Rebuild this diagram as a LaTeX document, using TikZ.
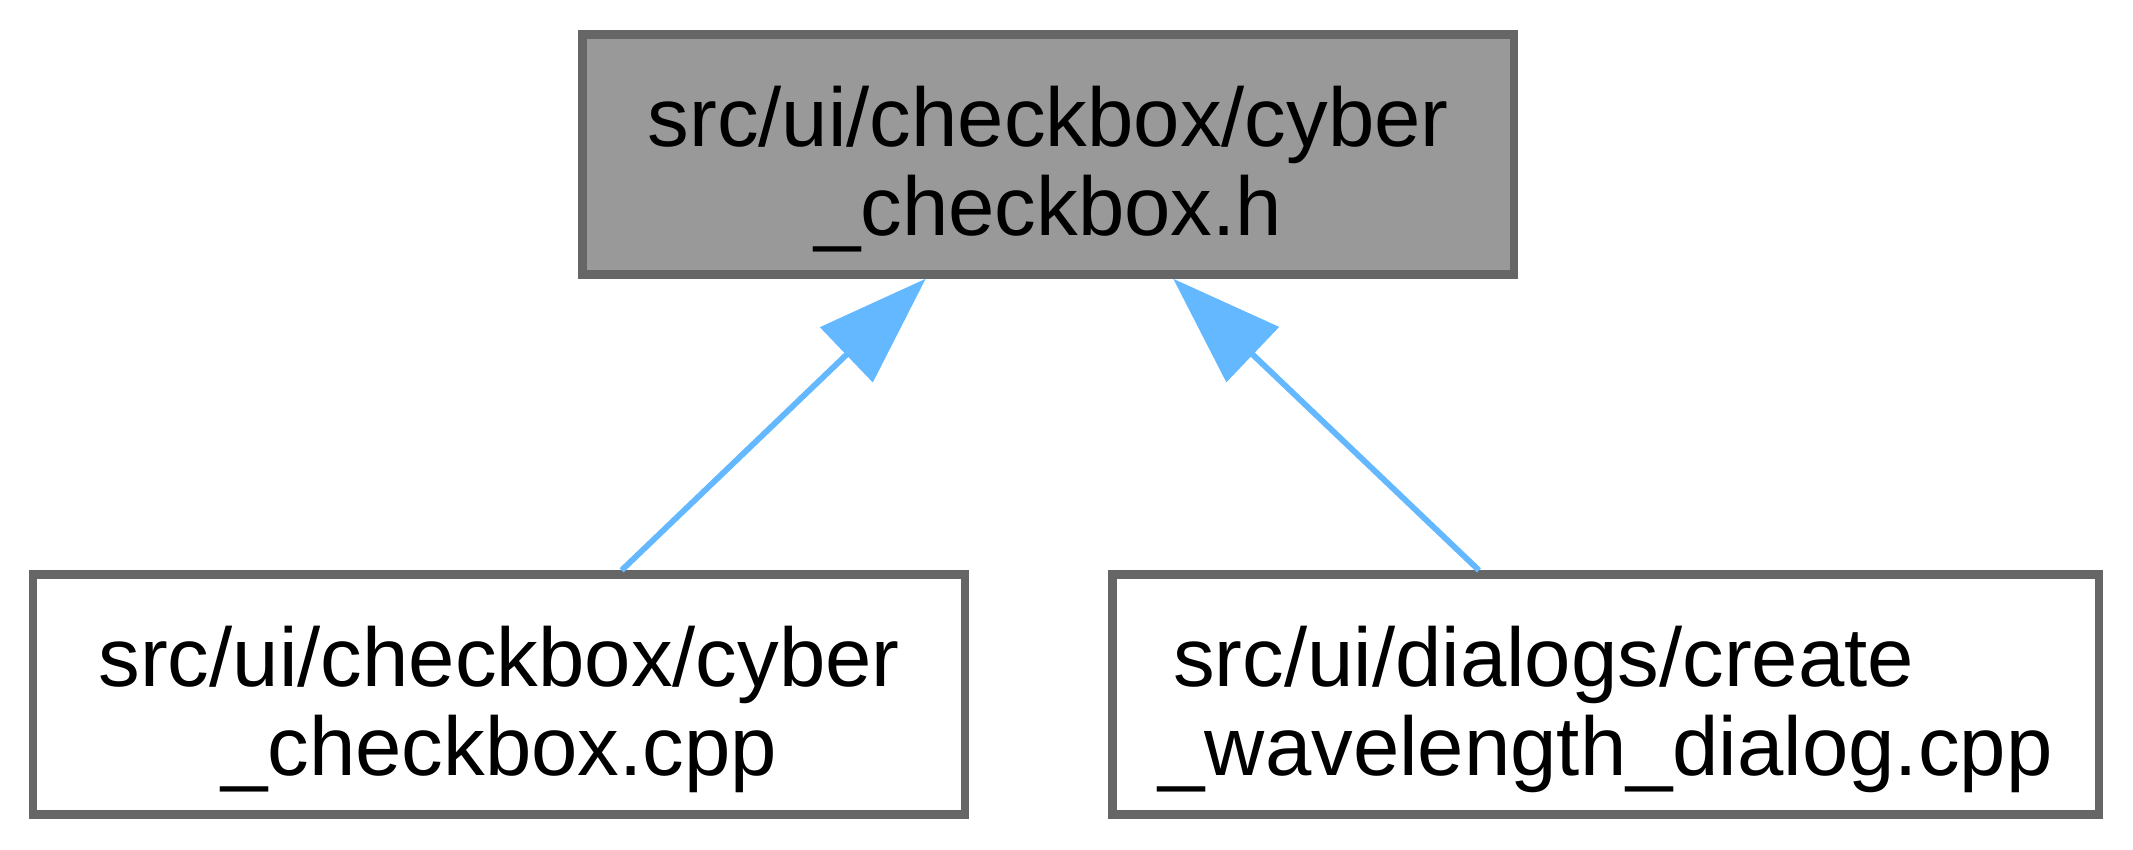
\documentclass[tikz,border=0pt]{standalone}
\usepackage{fontspec}
\setmainfont{Liberation Sans}
\usepackage{tikz}
\usetikzlibrary{arrows.meta,positioning}
\definecolor{dxborder}{HTML}{666666}
\definecolor{dxgris}{HTML}{999999}
\definecolor{dxbleu}{HTML}{63B8FF}

\begin{document}
\begin{tikzpicture}[x=1pt,y=-1pt,
  file/.style={rectangle,draw=dxborder,line width=1pt,fill=white,
    minimum width=111.8pt,minimum height=28.8pt,align=center,inner sep=0pt,
    text height=21.3pt,text depth=1.76pt,font=\fontsize{10}{10.7}\selectfont},
  cur/.style={file,fill=dxgris},
  dep/.style={{Triangle[length=13.2pt,width=9pt]}-,dxbleu,line width=0.7pt}]
  \useasboundingbox (0,0) rectangle (256,102);
  \node[cur] (hdr) at (125.8,18.55) {src/ui/checkbox/cyber\\\_checkbox.h};
  \node[file] (cpp) at (59.9,83.35) {src/ui/checkbox/cyber\\\_checkbox.cpp};
  \node[file,minimum width=118.4pt] (dlg) at (192.7,83.35)
    {src/ui/dialogs/create\hspace*{14.9pt}\\\_wavelength\_dialog.cpp};
  \draw[dep] ([xshift=-14.7pt]hdr.south) -- ([xshift=14.7pt]cpp.north);
  \draw[dep] ([xshift=15pt]hdr.south) -- ([xshift=-15.2pt]dlg.north);
\end{tikzpicture}
\end{document}
